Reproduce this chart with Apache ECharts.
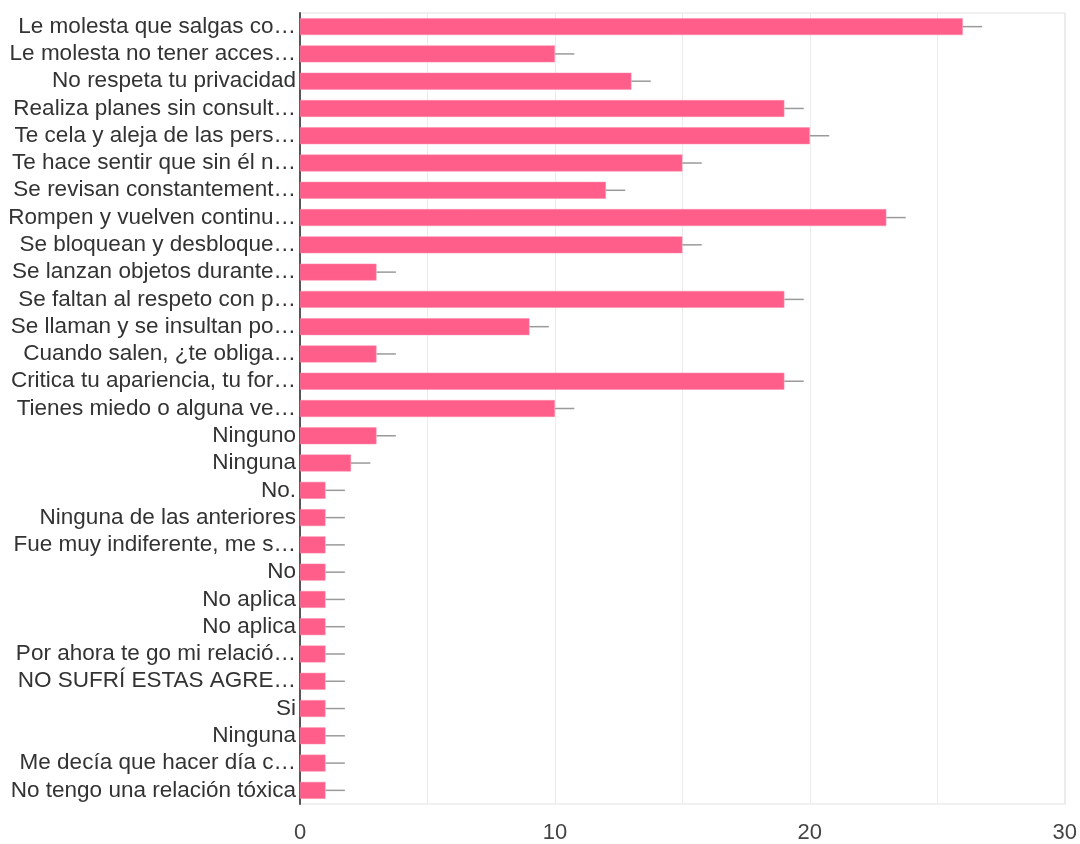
<!DOCTYPE html>
<html>
<head>
<meta charset="utf-8">
<script src="https://cdn.jsdelivr.net/npm/echarts@6/dist/echarts.min.js"></script>
<style>html,body{margin:0;padding:0;background:#fff}#c{width:1080px;height:844px}</style>
</head>
<body>
<div id="c"></div>
<script>
const categories = [
  "Le molesta que salgas co…",
  "Le molesta no tener acces…",
  "No respeta tu privacidad",
  "Realiza planes sin consult…",
  "Te cela y aleja de las pers…",
  "Te hace sentir que sin él n…",
  "Se revisan constantement…",
  "Rompen y vuelven continu…",
  "Se bloquean y desbloque…",
  "Se lanzan objetos durante…",
  "Se faltan al respeto con p…",
  "Se llaman y se insultan po…",
  "Cuando salen, ¿te obliga…",
  "Critica tu apariencia, tu for…",
  "Tienes miedo o alguna ve…",
  "Ninguno",
  "Ninguna",
  "No.",
  "Ninguna de las anteriores",
  "Fue muy indiferente, me s…",
  "No",
  "No aplica",
  "No aplica",
  "Por ahora te go mi relació…",
  "NO SUFRÍ ESTAS AGRE…",
  "Si",
  "Ninguna",
  "Me decía que hacer día c…",
  "No tengo una relación tóxica"
];
const values = [26, 10, 13, 19, 20, 15, 12, 23, 15, 3, 19, 9, 3, 19, 10, 3, 2, 1, 1, 1, 1, 1, 1, 1, 1, 1, 1, 1, 1];
const errors = [0.76, 0.76, 0.76, 0.76, 0.76, 0.76, 0.76, 0.76, 0.76, 0.76, 0.76, 0.76, 0.76, 0.76, 0.76, 0.76, 0.76, 0.76, 0.76, 0.76, 0.76, 0.76, 0.76, 0.76, 0.76, 0.76, 0.76, 0.76, 0.76];
const xTicks = [0, 10, 20, 30];

const chart = echarts.init(document.getElementById('c'), null, {renderer: 'canvas'});
const idx = categories.map((_, i) => i);
chart.setOption({
  animation: false,
  grid: {left: 300, right: 13, top: 13, bottom: 36, show: true, borderColor: '#ebebeb', borderWidth: 1.5, containLabel: false},
  xAxis: {
    type: 'value', min: 0, max: 30, interval: 5,
    axisLine: {show: false}, axisTick: {show: false},
    splitLine: {lineStyle: {color: '#ececec', width: 1}},
    axisLabel: {
      color: '#444', fontSize: 22, fontFamily: 'Liberation Sans, Arial, sans-serif', margin: 18,
      formatter: v => xTicks.indexOf(v) >= 0 ? String(v) : ''
    }
  },
  yAxis: {
    type: 'category', inverse: true,
    data: idx,
    axisLine: {show: true, lineStyle: {color: '#555', width: 2}},
    axisTick: {show: false},
    axisLabel: {
      interval: 0,
      color: '#333', fontSize: 22.5, fontFamily: 'Liberation Sans, Arial, sans-serif', margin: 4,
      formatter: v => categories[+v]
    }
  },
  series: [
    {
      type: 'bar', data: values, barCategoryGap: '38%',
      itemStyle: {color: '#ff5e8b', borderColor: '#ff8aab', borderWidth: 0.5},
      z: 2
    },
    {
      type: 'custom', z: 3,
      data: values.map((v, i) => [v, i, errors[i]]),
      renderItem: function (params, api) {
        const v = api.value(0), i = api.value(1), e = api.value(2);
        const p1 = api.coord([v, i]);
        const p2 = api.coord([v + e, i]);
        return {
          type: 'line',
          shape: {x1: p1[0], y1: p1[1], x2: p2[0], y2: p2[1]},
          style: {stroke: '#9a9a9a', lineWidth: 1.5}
        };
      }
    }
  ]
});
</script>
</body>
</html>
